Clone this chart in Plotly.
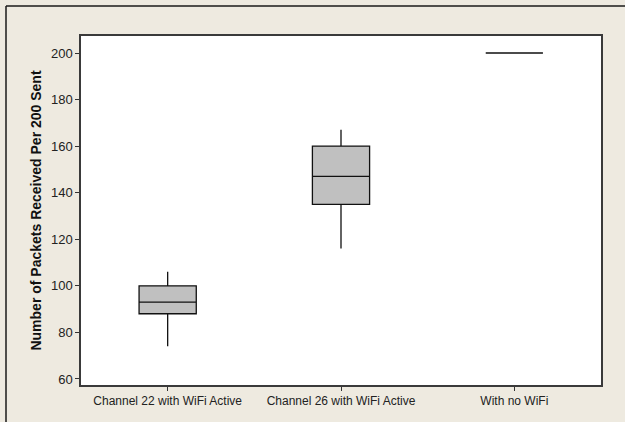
import plotly.graph_objects as go

# Packet delivery summary (five-number statistics per test condition)
categories = ["Channel 22 with WiFi Active", "Channel 26 with WiFi Active", "With no WiFi"]
lower_whisker = [74, 116, 200]
q1_values = [88, 135, 200]
medians = [93, 147, 200]
q3_values = [100, 160, 200]
upper_whisker = [106, 167, 200]
y_ticks = [60, 80, 100, 120, 140, 160, 180, 200]

W, H = 625, 422
L, R, T, B = 81, 24, 36, 37

fig = go.Figure()
fig.add_trace(go.Box(
    x=categories,
    q1=q1_values,
    median=medians,
    q3=q3_values,
    lowerfence=lower_whisker,
    upperfence=upper_whisker,
    width=0.33,
    whiskerwidth=0,
    fillcolor="#C0C0C0",
    line=dict(color="#111111", width=1.3),
    boxpoints=False,
    hoverinfo="skip",
))

# outer frame lines along the top and left edges of the figure
pw, ph = W - L - R, H - T - B
def px_x(p):
    return (p - L) / pw
def px_y(p):
    return (H - B - p) / ph

frame = dict(color="#1a1a1a", width=1.5)
fig.add_shape(type="line", xref="paper", yref="paper",
              x0=px_x(6), x1=px_x(W), y0=px_y(6), y1=px_y(6), line=frame)
fig.add_shape(type="line", xref="paper", yref="paper",
              x0=px_x(6), x1=px_x(6), y0=px_y(6), y1=px_y(H), line=frame)

font_family = "Liberation Sans, Arial, sans-serif"
fig.update_layout(
    width=W, height=H,
    margin=dict(l=L, r=R, t=T, b=B),
    paper_bgcolor="#EEEAE0",
    plot_bgcolor="#FFFFFF",
    showlegend=False,
    xaxis=dict(
        type="category",
        range=[-0.5, 2.5],
        showgrid=False, zeroline=False,
        showline=True, linecolor="#3a3a3a", linewidth=1.5, mirror=True,
        ticks="outside", ticklen=4, tickcolor="#333333",
        tickfont=dict(family=font_family, size=12, color="#222222"),
    ),
    yaxis=dict(
        range=[57.4, 207.3],
        tickvals=y_ticks,
        showgrid=False, zeroline=False,
        showline=True, linecolor="#3a3a3a", linewidth=1.5, mirror=True,
        ticks="outside", ticklen=4, tickcolor="#333333",
        tickfont=dict(family=font_family, size=13, color="#222222"),
        title=dict(text="<b>Number of Packets Received Per 200 Sent</b>",
                   font=dict(family=font_family, size=14, color="#111111"),
                   standoff=6),
    ),
)

fig.write_html("out.html")
